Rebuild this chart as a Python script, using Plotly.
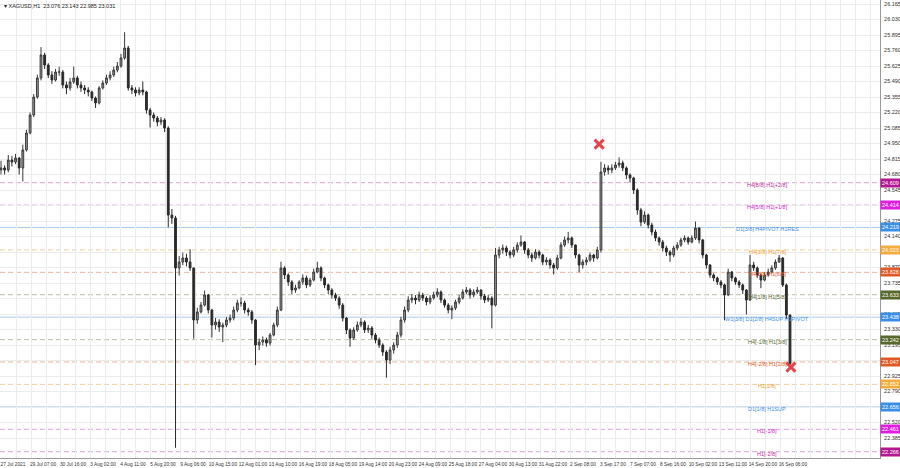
import plotly.graph_objects as go

# ---------------- data (4-hour groups of the H1 chart) ----------------
first_open = 24.72
close = [
24.737,24.719,24.806,24.789,24.824,24.737,24.894,25.042,25.198,25.355,
25.521,25.721,25.634,25.547,25.503,25.573,25.573,25.460,25.434,25.486,
25.521,25.460,25.434,25.416,25.399,25.346,25.303,25.434,25.477,25.521,
25.547,25.590,25.625,25.695,25.782,25.434,25.416,25.390,25.416,25.399,
25.242,25.198,25.172,25.137,25.155,25.085,24.327,24.301,23.866,23.918,
23.953,23.918,23.866,23.413,23.483,23.543,23.631,23.500,23.369,23.395,
23.352,23.369,23.413,23.430,23.500,23.561,23.561,23.500,23.483,23.413,
23.195,23.221,23.239,23.212,23.282,23.369,23.500,23.866,23.805,23.744,
23.674,23.692,23.744,23.779,23.718,23.761,23.831,23.866,23.779,23.718,
23.674,23.631,23.604,23.543,23.430,23.326,23.256,23.326,23.369,23.395,
23.326,23.343,23.282,23.239,23.195,23.134,23.064,23.152,23.195,23.282,
23.413,23.500,23.587,23.604,23.587,23.631,23.604,23.570,23.604,23.631,
23.657,23.587,23.543,23.500,23.517,23.570,23.604,23.657,23.674,23.631,
23.657,23.674,23.622,23.587,23.604,23.543,23.979,24.023,24.040,24.005,
23.979,24.023,24.066,24.092,24.023,23.979,23.953,24.005,23.979,23.918,
23.935,23.892,23.866,23.953,24.066,24.110,24.127,24.066,23.979,23.892,
23.918,23.935,23.979,23.953,24.023,24.702,24.737,24.719,24.737,24.763,
24.780,24.737,24.676,24.650,24.545,24.371,24.266,24.327,24.240,24.179,
24.127,24.092,24.040,24.005,23.979,24.040,24.066,24.110,24.127,24.092,
24.127,24.214,24.110,23.979,23.892,23.805,23.779,23.744,23.718,23.631,
23.831,23.779,23.744,23.718,23.674,23.587,23.892,23.866,23.805,23.761,
23.805,23.831,23.866,23.918,23.953,23.718,23.456,23.031]
high = [
24.80,24.76,24.85,24.84,24.86,24.83,24.94,25.07,25.22,25.38,
25.55,25.79,25.74,25.65,25.58,25.60,25.62,25.59,25.49,25.52,
25.62,25.54,25.49,25.46,25.44,25.41,25.36,25.45,25.50,25.55,
25.58,25.62,25.66,25.73,25.92,25.80,25.46,25.44,25.44,25.49,
25.41,25.26,25.22,25.19,25.18,25.17,25.10,24.38,24.32,23.97,
24.00,23.99,24.03,23.87,23.52,23.57,23.67,23.64,23.51,23.43,
23.42,23.39,23.44,23.46,23.53,23.59,23.61,23.58,23.52,23.50,
23.42,23.25,23.27,23.26,23.30,23.39,23.53,23.92,23.88,23.82,
23.76,23.72,23.76,23.81,23.80,23.78,23.86,23.92,23.88,23.79,
23.73,23.69,23.65,23.62,23.56,23.44,23.34,23.35,23.40,23.43,
23.41,23.37,23.36,23.30,23.26,23.21,23.15,23.18,23.22,23.31,
23.44,23.53,23.62,23.64,23.63,23.66,23.65,23.62,23.63,23.66,
23.69,23.67,23.60,23.56,23.54,23.59,23.63,23.68,23.70,23.69,
23.68,23.70,23.68,23.64,23.63,23.62,24.04,24.05,24.07,24.06,
24.02,24.05,24.09,24.15,24.10,24.04,24.00,24.03,24.02,23.99,
23.96,23.95,23.91,23.98,24.09,24.14,24.18,24.14,24.07,23.99,
23.94,23.96,24.00,23.99,24.05,24.79,24.77,24.76,24.77,24.79,
24.83,24.80,24.75,24.69,24.66,24.56,24.39,24.36,24.34,24.26,
24.20,24.14,24.11,24.06,24.02,24.06,24.09,24.13,24.15,24.14,
24.15,24.27,24.22,24.12,23.99,23.90,23.82,23.79,23.76,23.73,
23.86,23.84,23.79,23.76,23.73,23.68,23.98,23.92,23.88,23.82,
23.83,23.86,23.89,23.94,23.98,23.96,23.73,23.46]
low = [
24.68,24.68,24.70,24.75,24.77,24.68,24.62,24.88,25.03,25.18,
25.34,25.50,25.60,25.52,25.47,25.49,25.54,25.43,25.38,25.41,
25.47,25.43,25.40,25.38,25.36,25.32,25.26,25.29,25.42,25.46,
25.50,25.53,25.57,25.61,25.68,25.41,25.38,25.36,25.37,25.37,
25.21,25.09,25.14,25.10,25.11,25.05,24.22,24.25,22.30,23.80,
23.89,23.88,23.84,23.25,23.38,23.47,23.53,23.47,23.26,23.33,
23.31,23.22,23.35,23.39,23.41,23.48,23.53,23.47,23.45,23.38,
23.02,23.15,23.19,23.18,23.19,23.27,23.35,23.49,23.77,23.71,
23.64,23.65,23.68,23.72,23.69,23.70,23.75,23.82,23.75,23.69,
23.64,23.60,23.58,23.51,23.40,23.29,23.18,23.24,23.31,23.35,
23.30,23.30,23.25,23.21,23.17,23.10,22.91,23.03,23.12,23.17,
23.26,23.39,23.48,23.56,23.55,23.57,23.58,23.54,23.55,23.59,
23.61,23.56,23.52,23.47,23.42,23.50,23.55,23.59,23.64,23.60,
23.61,23.64,23.59,23.56,23.57,23.34,23.53,23.95,23.99,23.97,
23.95,23.96,24.00,24.05,23.99,23.95,23.92,23.94,23.95,23.89,
23.89,23.86,23.81,23.85,23.94,24.05,24.08,24.04,23.95,23.83,
23.86,23.89,23.92,23.92,23.94,24.00,24.67,24.68,24.69,24.72,
24.74,24.71,24.64,24.61,24.51,24.33,24.23,24.25,24.21,24.15,
24.10,24.06,24.01,23.97,23.92,23.96,24.02,24.05,24.09,24.07,
24.08,24.11,24.08,23.95,23.86,23.78,23.75,23.72,23.69,23.41,
23.62,23.75,23.72,23.69,23.64,23.46,23.58,23.84,23.78,23.69,
23.75,23.79,23.82,23.85,23.91,23.70,23.42,22.985]
open_ = [first_open] + close[:-1]
bar_index = [4 * j for j in range(len(close))]  # hourly bar number of each 4-hour group

time_labels = ["27 Jul 2021", "29 Jul 07:00", "30 Jul 16:00", "3 Aug 02:00", "4 Aug 11:00",
               "5 Aug 20:00", "9 Aug 06:00", "10 Aug 15:00", "12 Aug 01:00", "13 Aug 10:00",
               "16 Aug 19:00", "18 Aug 05:00", "19 Aug 14:00", "20 Aug 23:00", "24 Aug 09:00",
               "25 Aug 18:00", "27 Aug 04:00", "30 Aug 13:00", "31 Aug 22:00", "2 Sep 08:00",
               "3 Sep 17:00", "7 Sep 07:00", "8 Sep 16:00", "10 Sep 02:00", "13 Sep 11:00",
               "14 Sep 20:00", "16 Sep 06:00"]
bars_per_label = 33

price_ticks = [22.385, 22.520, 22.655, 22.790, 22.925, 23.060, 23.195, 23.330, 23.465, 23.600,
               23.735, 23.870, 24.005, 24.140, 24.275, 24.410, 24.545, 24.680, 24.815, 24.950,
               25.085, 25.220, 25.355, 25.490, 25.625, 25.760, 25.895, 26.030, 26.165]
hidden_price_ticks = [22.655, 23.060, 23.600, 24.005, 24.410]  # covered by level boxes

level_values = [24.609, 24.414, 24.219, 24.023, 23.828, 23.633, 23.438, 23.242, 23.047,
                22.852, 22.656, 22.461, 22.266]
level_names = ["H4[8/8] H1[+2/8]", "H4[5/8] H1[+1/8]", "D1[3/8] H4PIVOT H1RES",
               "H4[3/8] H1[7/8]", "H4[2/8] H1[6/8]", "H4[1/8] H1[5/8]",
               "W1[3/8] D1[2/8] H4SUP H1PIVOT", "H4[-1/8] H1[3/8]", "H4[-2/8] H1[2/8]",
               "H1[1/8]", "D1[1/8] H1SUP", "H1[-1/8]", "H1[-2/8]"]
level_kind = ["purple", "magenta", "blue", "orange", "red", "olive", "blue", "olive", "red",
              "orange", "blue", "magenta", "purple"]

marker_bars = [658, 869]
marker_prices = [24.945, 23.003]

title_text = "XAGUSD,H1  23.076 23.143 22.985 23.031"

# ---------------- styles ----------------
kind_style = {
    "purple":  dict(line="#d9a6cf", box="#b2188f", text="#c0289c", dash="dash"),
    "magenta": dict(line="#e0a0e0", box="#e01ee0", text="#d420d4", dash="dash"),
    "blue":    dict(line="#a9cbec", box="#3b8ee6", text="#3b8ee6", dash="solid"),
    "orange":  dict(line="#f3cf9a", box="#f4ad3c", text="#eca030", dash="dash"),
    "red":     dict(line="#eab49a", box="#e05a24", text="#e05a24", dash="dash"),
    "olive":   dict(line="#b9bfa8", box="#56682c", text="#56682c", dash="dash"),
}

FONT = "Liberation Sans"
NARROW = "Liberation Sans Narrow, Liberation Sans"
x_min, x_max = -1.1, 967
y_min, y_max = 22.211, 26.20

fig = go.Figure()

shapes = []
annotations = []
for v, name, kind in zip(level_values, level_names, level_kind):
    st = kind_style[kind]
    shapes.append(dict(type="line", xref="paper", x0=0, x1=1, yref="y", y0=v, y1=v,
                       line=dict(color=st["line"], width=1,
                                 dash="solid" if st["dash"] == "solid" else "5px,3px"),
                       layer="below"))
    annotations.append(dict(x=843, y=v, xref="x", yref="y", text=name, showarrow=False,
                            font=dict(family=FONT, size=5.5, color=st["text"]),
                            xanchor="center", yanchor="middle", yshift=-2))
    annotations.append(dict(x=1, y=v, xref="paper", yref="y", text=f"{v:.3f}", showarrow=False,
                            font=dict(family=FONT, size=5.5, color="white"),
                            bgcolor=st["box"], xanchor="left", yanchor="middle",
                            borderpad=1, xshift=0))

fig.add_trace(go.Candlestick(
    x=bar_index, open=open_, high=high, low=low, close=close,
    increasing=dict(line=dict(color="#3a3a3a", width=1), fillcolor="#9a9a9a"),
    decreasing=dict(line=dict(color="#2a2a2a", width=1), fillcolor="#2a2a2a"),
    whiskerwidth=0, showlegend=False, hoverinfo="skip"))

fig.add_trace(go.Scatter(
    x=marker_bars, y=marker_prices, mode="markers",
    marker=dict(symbol="x-thin", size=9, line=dict(width=3, color="#e2454a")),
    showlegend=False, hoverinfo="skip"))

annotations.append(dict(x=0, y=1, xref="paper", yref="paper", text="▾ " + title_text,
                        showarrow=False, xanchor="left", yanchor="top", xshift=2, yshift=-1,
                        font=dict(family=FONT, size=5.5, color="#222222")))

tickvals = [i * bars_per_label / 2 for i in range(0, 59)]
ticktext = [time_labels[i // 2] if (i % 2 == 0 and i // 2 < len(time_labels)) else ""
            for i in range(0, 59)]

fig.update_layout(
    width=900, height=468,
    margin=dict(l=0, r=20, t=0, b=10, autoexpand=False),
    paper_bgcolor="white", plot_bgcolor="white",
    shapes=shapes, annotations=annotations,
    xaxis=dict(range=[x_min, x_max], tickvals=tickvals, ticktext=ticktext, tickangle=0,
               showgrid=True, gridcolor="#ececec", gridwidth=1,
               showline=True, linecolor="#9a9a9a", mirror=True, automargin=False,
               tickfont=dict(family=NARROW, size=4.8, color="#333333"),
               ticks="", ticklabelshift=12, ticklabelstandoff=1,
               rangeslider=dict(visible=False), zeroline=False, fixedrange=True),
    yaxis=dict(range=[y_min, y_max], side="right", tickvals=price_ticks,
               ticktext=["" if t in hidden_price_ticks else f"{t:.3f}" for t in price_ticks],
               showgrid=True, gridcolor="#ececec", gridwidth=1,
               showline=True, linecolor="#9a9a9a", mirror=True, automargin=False,
               tickfont=dict(family=FONT, size=5.5, color="#333333"),
               ticks="", ticklabelstandoff=2, zeroline=False, fixedrange=True),
)

fig.write_html("out.html", config={"displayModeBar": False},
               post_script="document.body.style.margin='0';document.body.style.overflow='hidden';")
